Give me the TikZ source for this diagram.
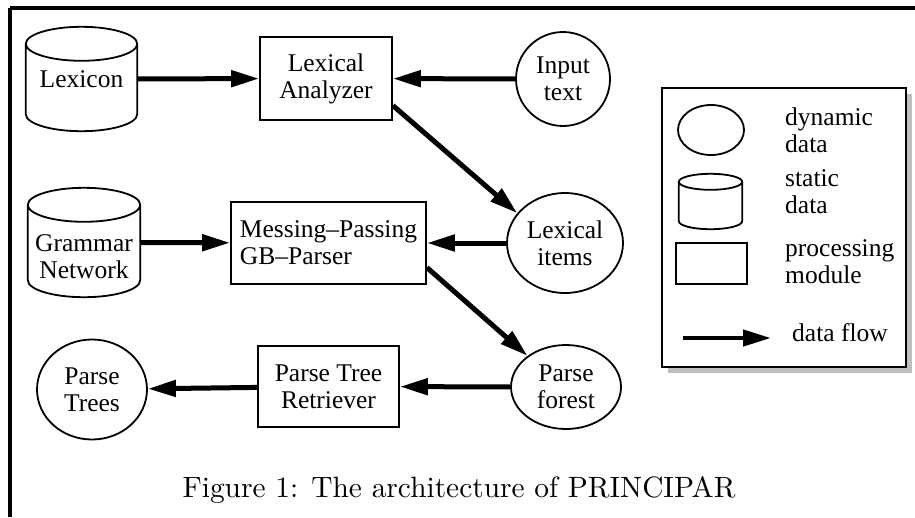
\documentclass[tikz,border=0pt]{standalone}
\usepackage{fontspec}
\setmainfont{Liberation Serif}[Ligatures=TeX]
\newfontfamily\capfont{lmroman10-regular}[Extension=.otf]
\usepackage{tikz}
\usetikzlibrary{shapes,calc,arrows.meta,shadows}
\definecolor{shadowgray}{rgb}{0.75,0.75,0.75}
\tikzstyle{textstyle}=[font=\rmfamily\fontsize{25.5}{27}\selectfont,align=center]
\tikzstyle{outline}=[draw=black,line width=1.8pt]
\tikzstyle{datastyle}=[textstyle,outline,ellipse,inner sep=0pt]
\tikzstyle{storestyle}=[textstyle,rectangle,inner sep=0pt]
\tikzstyle{modulestyle}=[textstyle,outline,rectangle,inner sep=0pt]
\tikzstyle{flow}=[line width=5pt,-{Triangle[length=28pt,width=16pt]}]
\tikzstyle{frame}=[line width=4pt]
\tikzstyle{legendtext}=[textstyle,align=left,anchor=west,inner sep=0pt]
% cylinder outline round a node: #1 node, #2 radius of the end ellipse
\newcommand{\storeshape}[2]{%
  \draw[outline,line join=round] let \p1=(#1.north west), \p2=(#1.south east), \n1={(\x2-\x1)/2} in
    (\x1,\y1-#2) -- (\x1,\y2+#2) arc[start angle=180,end angle=360,x radius=\n1,y radius=#2]
    -- (\x2,\y1-#2)
    (\x1+\n1,\y1-#2) ellipse[x radius=\n1,y radius=#2];}

\begin{document}
\begin{tikzpicture}[x=1pt,y=-1pt]
  \useasboundingbox (0,0) rectangle (915,517);

  % FRAME
  \draw[frame] (10,8) -- (915,8);
  \draw[frame] (10,8) -- (10,517);

  % DATA AND MODULES
  \node[storestyle,minimum width=111pt,minimum height=104pt] (lexicon) at (81.5,79) {Lexicon};
  \storeshape{lexicon}{17pt}
  \node[modulestyle,minimum width=132pt,minimum height=83pt] (lexana) at (326,78.5) {Lexical\\Analyzer};
  \node[datastyle,minimum width=94pt,minimum height=94pt] (input) at (563,79) {Input\\text};
  \node[storestyle,minimum width=112pt,minimum height=109pt,
        label={[textstyle,yshift=-14pt]center:{Grammar\\Network}}] (grammar) at (84,242.5) {};
  \storeshape{grammar}{17pt}
  \node[modulestyle,align=left,minimum width=195pt,minimum height=82pt] (mpp) at (328.5,243) {Messing--Passing\\GB--Parser};
  \node[datastyle,minimum width=116pt,minimum height=100pt] (lexitems) at (565,243) {Lexical\\items};
  \node[modulestyle,minimum width=141pt,minimum height=81pt] (ptr) at (328.5,386.5) {Parse Tree\\Retriever};
  \node[datastyle,minimum width=110pt,minimum height=84pt] (forest) at (566,387) {Parse\\forest};
  \node[datastyle,minimum width=110pt,minimum height=100pt] (trees) at (92,389.5) {Parse\\Trees};

  % DATA FLOW
  \draw[flow] (lexicon) -- (lexana);
  \draw[flow] (input) -- (lexana);
  \draw[flow] (lexana.-22) -- (lexitems.148);
  \draw[flow] (grammar) -- (mpp);
  \draw[flow] (lexitems) -- (mpp);
  \draw[flow] (mpp.-14) -- (forest.141);
  \draw[flow] (forest) -- (ptr);
  \draw[flow] (ptr) -- (trees);

  % LEGEND
  \node[outline,fill=white,minimum width=244pt,minimum height=279pt,
        drop shadow={shadow xshift=6pt,shadow yshift=-6pt,fill=shadowgray,opacity=1}] (legend) at (784,227.5) {};
  \node[datastyle,minimum width=66pt,minimum height=50pt] (legdyn) at (711,130) {};
  \node[storestyle,minimum width=63pt,minimum height=55pt] (legstat) at (710.5,201.5) {};
  \storeshape{legstat}{8pt}
  \node[modulestyle,minimum width=71pt,minimum height=41pt] (legproc) at (711.5,263.5) {};
  \coordinate (flowstart) at (683,338);
  \coordinate (flowend) at (771,338);
  \draw[flow,line width=4.5pt] (flowstart) -- (flowend);
  \node[legendtext] (legdyntext) at (785,130) {dynamic\\data};
  \node[legendtext] (legstattext) at (785,192) {static\\data};
  \node[legendtext] (legproctext) at (785,262) {processing\\module};
  \node[legendtext] (legflowtext) at (792,333) {data flow};

  % CAPTION
  \node[font=\capfont\fontsize{29.4}{34}\selectfont,inner sep=0pt] (caption) at (459,490) {Figure 1: The architecture of PRINCIPAR};

\end{tikzpicture}
\end{document}
